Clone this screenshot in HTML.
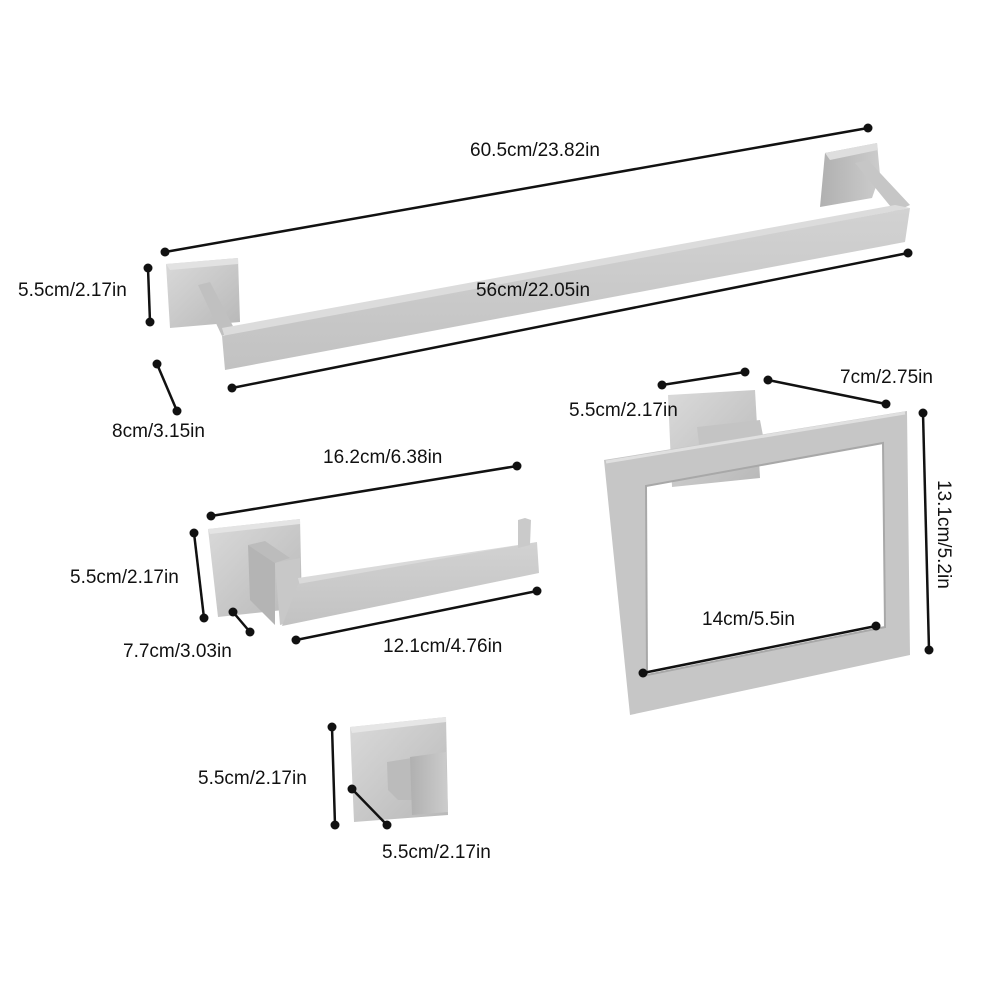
<!DOCTYPE html>
<html><head><meta charset="utf-8"><style>
html,body{margin:0;padding:0;background:#fff}
svg{display:block}
text{font-family:"Liberation Sans",sans-serif;font-size:19px;fill:#111}
</style></head><body>
<svg width="1000" height="1000" viewBox="0 0 1000 1000" xmlns="http://www.w3.org/2000/svg">
<defs>
<linearGradient id="g1" x1="0" y1="0" x2="1" y2="1"><stop offset="0" stop-color="#dadada"/><stop offset="1" stop-color="#b8b8b8"/></linearGradient>
<linearGradient id="g2" x1="0" y1="0" x2="0" y2="1"><stop offset="0" stop-color="#d2d2d2"/><stop offset="1" stop-color="#c2c2c2"/></linearGradient>
<linearGradient id="g3" x1="0" y1="0" x2="1" y2="0"><stop offset="0" stop-color="#b0b0b0"/><stop offset="1" stop-color="#cccccc"/></linearGradient>
</defs>

<!-- Towel bar -->
<polygon points="825,153 877,143 880,175 872,198 820,207" fill="url(#g3)"/>
<polygon points="825,153 877,143 878,150 830,160" fill="#dedede"/>
<polygon points="855,163 868,160 910,205 895,212" fill="#c6c6c6"/>
<polygon points="166,264 238,258 240,322 170,328" fill="url(#g1)"/>
<polygon points="166,264 238,258 238,264 170,270" fill="#e2e2e2"/>
<polygon points="198,285 210,282 235,330 222,336" fill="#c0c0c0"/>
<polygon points="222,328 895,205 910,208 225,338" fill="#dcdcdc"/>
<polygon points="222,336 910,208 905,242 225,370" fill="url(#g2)"/>

<!-- Toilet paper holder -->
<polygon points="208,529 300,519 302,608 218,617" fill="url(#g1)"/>
<polygon points="208,529 300,519 300,524 210,534" fill="#e4e4e4"/>
<polygon points="248,545 265,541 290,558 275,563" fill="#bcbcbc"/>
<polygon points="248,545 275,563 275,625 250,600" fill="#b4b4b4"/>
<polygon points="275,563 300,558 300,585 298,620 280,625" fill="#c8c8c8"/>
<polygon points="298,578 518,545 537,542 300,586" fill="#dadada"/>
<polygon points="298,584 537,542 539,573 282,626" fill="url(#g2)"/>
<polygon points="518,520 525,518 531,520 530,545 518,548" fill="#cacaca"/>

<!-- Towel ring -->
<polygon points="668,395 755,390 760,478 672,487" fill="url(#g1)"/>
<polygon points="697,427 760,420 765,446 700,452" fill="#c4c4c4"/>
<path fill-rule="evenodd" fill="#c6c6c6" d="M604,460 L907,411 L910,655 L630,715 Z M646,486 L883,443 L885,627 L647,675 Z"/>
<path fill="none" stroke="#e0e0e0" stroke-width="3" d="M606,462 L905,413"/>
<path fill="none" stroke="#a8a8a8" stroke-width="2" d="M646,486 L883,443 L885,627 L647,675 Z"/>

<!-- Hook -->
<polygon points="350,727 446,717 448,815 354,822" fill="url(#g1)"/>
<polygon points="350,727 446,717 446,722 352,733" fill="#e6e6e6"/>
<polygon points="387,762 412,758 412,800 398,800 388,790" fill="#bbbbbb"/>
<polygon points="410,757 446,752 448,812 412,815" fill="url(#g3)"/>

<g stroke="#111" stroke-width="2.5" fill="none">
<line x1="165" y1="252" x2="868" y2="128"/>
<line x1="232" y1="388" x2="908" y2="253"/>
<line x1="148" y1="268" x2="150" y2="322"/>
<line x1="157" y1="364" x2="177" y2="411"/>
<line x1="211" y1="516" x2="517" y2="466"/>
<line x1="194" y1="533" x2="204" y2="618"/>
<line x1="233" y1="612" x2="250" y2="632"/>
<line x1="296" y1="640" x2="537" y2="591"/>
<line x1="662" y1="385" x2="745" y2="372"/>
<line x1="768" y1="380" x2="886" y2="404"/>
<line x1="923" y1="413" x2="929" y2="650"/>
<line x1="643" y1="673" x2="876" y2="626"/>
<line x1="332" y1="727" x2="335" y2="825"/>
<line x1="352" y1="789" x2="387" y2="825"/>
</g>
<g fill="#111">
<circle cx="165" cy="252" r="4.5"/><circle cx="868" cy="128" r="4.5"/>
<circle cx="232" cy="388" r="4.5"/><circle cx="908" cy="253" r="4.5"/>
<circle cx="148" cy="268" r="4.5"/><circle cx="150" cy="322" r="4.5"/>
<circle cx="157" cy="364" r="4.5"/><circle cx="177" cy="411" r="4.5"/>
<circle cx="211" cy="516" r="4.5"/><circle cx="517" cy="466" r="4.5"/>
<circle cx="194" cy="533" r="4.5"/><circle cx="204" cy="618" r="4.5"/>
<circle cx="233" cy="612" r="4.5"/><circle cx="250" cy="632" r="4.5"/>
<circle cx="296" cy="640" r="4.5"/><circle cx="537" cy="591" r="4.5"/>
<circle cx="662" cy="385" r="4.5"/><circle cx="745" cy="372" r="4.5"/>
<circle cx="768" cy="380" r="4.5"/><circle cx="886" cy="404" r="4.5"/>
<circle cx="923" cy="413" r="4.5"/><circle cx="929" cy="650" r="4.5"/>
<circle cx="643" cy="673" r="4.5"/><circle cx="876" cy="626" r="4.5"/>
<circle cx="332" cy="727" r="4.5"/><circle cx="335" cy="825" r="4.5"/>
<circle cx="352" cy="789" r="4.5"/><circle cx="387" cy="825" r="4.5"/>
</g>

<!-- Labels -->
<text x="535" y="156" text-anchor="middle">60.5cm/23.82in</text>
<text x="533" y="296" text-anchor="middle">56cm/22.05in</text>
<text x="18" y="296">5.5cm/2.17in</text>
<text x="112" y="437">8cm/3.15in</text>
<text x="323" y="463">16.2cm/6.38in</text>
<text x="70" y="583">5.5cm/2.17in</text>
<text x="123" y="657">7.7cm/3.03in</text>
<text x="383" y="652">12.1cm/4.76in</text>
<text x="569" y="416">5.5cm/2.17in</text>
<text x="840" y="383">7cm/2.75in</text>
<text x="702" y="625">14cm/5.5in</text>
<text transform="translate(938,480) rotate(90)">13.1cm/5.2in</text>
<text x="198" y="784">5.5cm/2.17in</text>
<text x="382" y="858">5.5cm/2.17in</text>
</svg>
</body></html>
